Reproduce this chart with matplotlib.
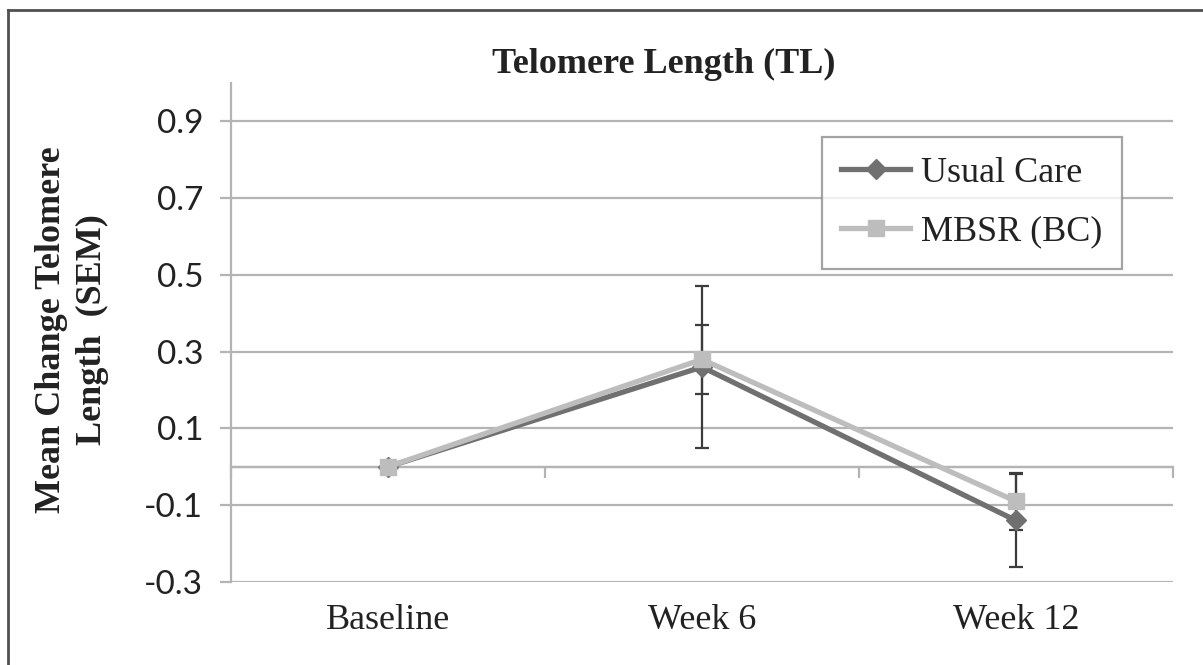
import matplotlib
matplotlib.use("Agg")
import matplotlib.pyplot as plt
from matplotlib.lines import Line2D
import numpy as np

categories = ["Baseline", "Week 6", "Week 12"]
usual_care = [0.0, 0.26, -0.14]
usual_care_sem = [0.0, 0.21, 0.12]
mbsr = [0.0, 0.28, -0.09]
mbsr_sem = [0.0, 0.09, 0.075]
yticks = [-0.3, -0.1, 0.1, 0.3, 0.5, 0.7, 0.9]
ylim = (-0.3, 1.0)

fig = plt.figure(figsize=(12.03, 6.65), dpi=100)
ax = fig.add_axes([0.192, 0.125, 0.783, 0.75])

x = np.arange(len(categories))
grid_c = "#b4b4b4"

for yv in yticks:
    ax.axhline(yv, color=grid_c, lw=1.6, zorder=1)
ax.axhline(0, color=grid_c, lw=1.6, zorder=1)

uc_c = "#707070"
mb_c = "#bdbdbd"
err_c = "#3c3c3c"

ax.errorbar(x[1:], usual_care[1:], yerr=usual_care_sem[1:], fmt="none",
            ecolor=err_c, elinewidth=1.6, capsize=5, capthick=1.6, zorder=2)
ax.errorbar(x[1:], mbsr[1:], yerr=mbsr_sem[1:], fmt="none",
            ecolor=err_c, elinewidth=1.6, capsize=5, capthick=1.6, zorder=2)

ax.plot(x, usual_care, color=uc_c, lw=3.8, marker="D", markersize=10,
        markerfacecolor=uc_c, markeredgecolor=uc_c, label="Usual Care", zorder=3)
ax.plot(x, mbsr, color=mb_c, lw=3.8, marker="s", markersize=12,
        markerfacecolor=mb_c, markeredgecolor=mb_c, label="MBSR (BC)", zorder=4)

ax.set_xlim(-0.5, len(categories) - 0.5)
ax.set_ylim(*ylim)
ax.set_yticks(yticks)
ax.set_yticklabels([f"{v:.1f}" for v in yticks], family="Lato", fontsize=24, color="#222222")
ax.set_xticks(x)
ax.set_xticklabels(categories, family="Liberation Serif", fontsize=26, color="#222222")
ax.tick_params(axis="x", length=0, pad=16)
ax.tick_params(axis="y", length=8, width=1.6, color=grid_c, pad=12, direction="out")

for s in ["top", "right", "bottom"]:
    ax.spines[s].set_visible(False)
ax.spines["left"].set_color(grid_c)
ax.spines["left"].set_linewidth(1.6)

# category axis at zero with boundary tick marks
zero_frac = (0 - ylim[0]) / (ylim[1] - ylim[0])
sec = ax.secondary_xaxis(zero_frac)
sec.set_xticks(np.arange(-0.5, len(categories), 1.0))
sec.tick_params(length=8, width=1.6, color=grid_c, direction="out", labelbottom=False, labeltop=False)
sec.spines["bottom"].set_color(grid_c)
sec.spines["bottom"].set_linewidth(1.6)
for s in ["top", "left", "right"]:
    sec.spines[s].set_visible(False)

leg = ax.legend(loc="upper right", bbox_to_anchor=(0.946, 0.892), borderaxespad=0,
                prop={"family": "Liberation Serif", "size": 26},
                frameon=True, fancybox=False, edgecolor="#8c8c8c",
                handlelength=1.9, handletextpad=0.3, borderpad=0.55, labelspacing=0.7)
leg.get_frame().set_linewidth(1.6)
for t in leg.get_texts():
    t.set_color("#222222")

fig.text(0.552, 0.903, "Telomere Length (TL)", ha="center", va="center",
         family="Liberation Serif", fontweight="bold", fontsize=26, color="#222222")
fig.text(0.060, 0.504, "Mean Change Telomere\nLength  (SEM)", ha="center", va="center",
         rotation=90, family="Liberation Serif", fontweight="bold", fontsize=26,
         color="#222222", linespacing=1.3)

border_c = "#505050"
fig.add_artist(Line2D([0.0066, 1.0], [0.985, 0.985], transform=fig.transFigure, color=border_c, lw=2))
fig.add_artist(Line2D([0.0066, 0.0066], [0.0, 0.985], transform=fig.transFigure, color=border_c, lw=2))

fig.savefig("out.png", dpi=100)
